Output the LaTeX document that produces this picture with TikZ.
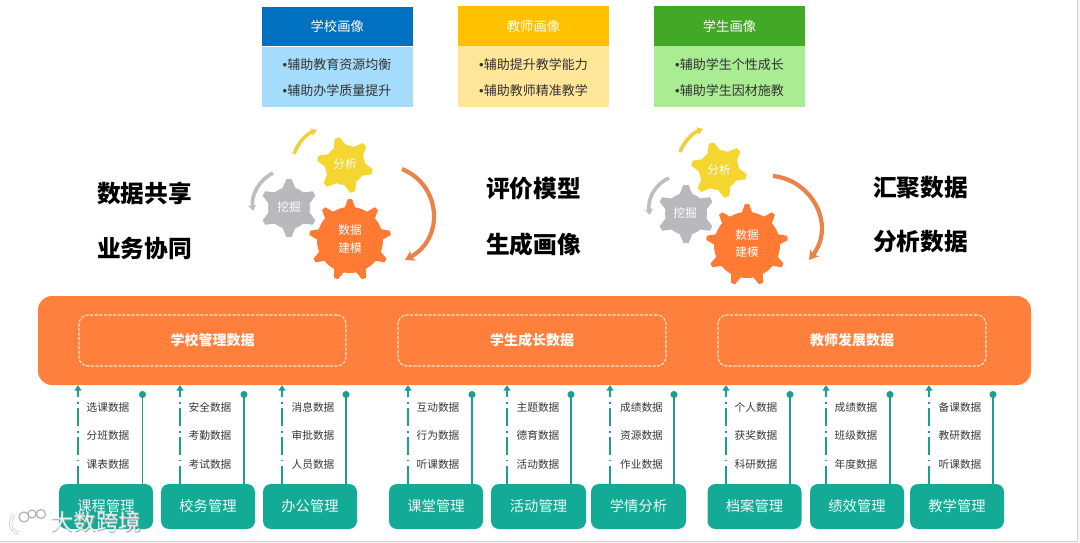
\documentclass[tikz,border=0pt]{standalone}
\usepackage{fontspec}
\setmainfont{Noto Sans CJK SC}
\newfontfamily\latbullet{Liberation Sans}
\usetikzlibrary{arrows.meta}
\definecolor{barorange}{HTML}{FF7F3C}
\definecolor{teal1}{HTML}{14AB96}
\definecolor{tealline}{HTML}{1F9E8C}
\definecolor{gearY}{HTML}{F5D530}
\definecolor{gearG}{HTML}{B9B9BD}
\definecolor{gearO}{HTML}{FF7A32}
\definecolor{arcO}{HTML}{E9834A}
\definecolor{arcG}{HTML}{BEBEC2}
\definecolor{arcY}{HTML}{F1CF3C}
\definecolor{cardBlueH}{HTML}{0070C0}
\definecolor{cardBlueL}{HTML}{A6DCFB}
\definecolor{cardYelH}{HTML}{FFC000}
\definecolor{cardYelL}{HTML}{FFE699}
\definecolor{cardGrnH}{HTML}{43A825}
\definecolor{cardGrnL}{HTML}{A9EC92}
\definecolor{dashcream}{HTML}{FFE6C8}
\newcommand{\fsz}[1]{\fontsize{#1pt}{#1pt}\selectfont}
\newcommand{\bul}{{\latbullet •}}
\tikzset{
  hdr/.style={inner sep=0pt,minimum width=151.5pt,minimum height=39.5pt,text=white,font=\fsz{13.3}},
  bodybox/.style={inner sep=0pt,minimum width=151.5pt,minimum height=60.5pt},
  bodytxt/.style={inner sep=0pt,text=black!80,font=\fsz{13}},
  bigtxt/.style={inner sep=0pt,text=black,font=\fsz{23.7}\bfseries},
  geartxt/.style={inner sep=0pt,text=white,font=\fsz{11.7}},
  databox/.style={draw=dashcream,line width=1.1pt,dash pattern=on 3.2pt off 1.4pt,rounded corners=9pt,inner sep=0pt,minimum height=51pt,text=white!96!orange,font=\fsz{14}\bfseries},
  modbox/.style={fill=teal1,rounded corners=8pt,inner sep=0pt,minimum height=45pt,text=white!92!teal1,font=\fsz{14.3}},
  lab/.style={inner sep=0pt,text=black!78,font=\fsz{10.7}},
  upline/.style={draw=tealline,line width=1.3pt,dash pattern=on 18pt off 4.5pt on 1.3pt off 5pt,-{Triangle[length=5.5pt,width=7pt]}},
  dotline/.style={draw=tealline,line width=1.3pt,-{Circle[length=7pt,width=7pt]}},
  bigarc/.style={draw=arcO,line width=4.2pt,-{Stealth[length=9pt,width=11pt,inset=2pt]}},
  grayarc/.style={draw=arcG,line width=3.6pt,-{Stealth[length=6pt,width=8pt,inset=1.5pt]}},
  yelarc/.style={draw=arcY,line width=3.6pt,-{Stealth[length=6pt,width=8pt,inset=1.5pt]}},
}
% x y body-radius outer-radius teeth rotation colour tooth-halfwidth
\newcommand{\gearshape}[8]{%
  \fill[#7] (#1,#2) circle[radius=#3];
  \foreach \k in {1,...,#5}{%
    \pgfmathsetmacro\ang{#6+360*\k/#5}%
    \begin{scope}[shift={(#1,#2)},rotate=\ang]
      \fill[#7,line join=round,draw=#7,line width=1pt] (#3-1.5,-#8-1.5) -- (#4-.5,-#8*0.5) -- (#4-.5,#8*0.5) -- (#3-1.5,#8+1.5) -- cycle;
    \end{scope}
  }%
}
% centre-x width title left-line right-line label-x label1 label2 label3
\newcommand{\datacol}[9]{%
  \node[modbox,minimum width=#2pt] (box#4) at (#1,506.5) {#3};
  \coordinate (l#4) at (#4,0);
  \coordinate (dot#4) at (#5,391);
  \draw[upline] (box#4.north -| l#4) -- (bar.south -| l#4);
  \draw[dotline] (box#4.north -| dot#4) -- (dot#4);
  \node[lab] (la#4) at (#6,407) {#7};
  \node[lab] (lb#4) at (#6,435.5) {#8};
  \node[lab] (lc#4) at (#6,464) {#9};
}
\begin{document}
\begin{tikzpicture}[x=1pt,y=-1pt]
\useasboundingbox (0,0) rectangle (1080,543);
\fill[white] (0,0) rectangle (1080,543);
% frame of the screenshot
\fill[black!4] (0,541) rectangle (1080,543);
\fill[black!4] (1077,0) rectangle (1080,543);
\draw[black!18,line width=.8pt] (0,541) -- (1077,541) -- (1077,0);

% top cards
\node[hdr,fill=cardBlueH] (h1) at (337.25,26.5) {学校画像};
\node[bodybox,fill=cardBlueL,anchor=north] (b1) at (h1.south) {};
\node[bodytxt] (b1a) at (337,64.5) {\bul 辅助教育资源均衡};
\node[bodytxt] (b1b) at (337,91) {\bul 辅助办学质量提升};
\node[hdr,fill=cardYelH] (h2) at (533.5,26) {教师画像};
\node[bodybox,fill=cardYelL,anchor=north] (b2) at (h2.south) {};
\node[bodytxt] (b2a) at (533.5,64.5) {\bul 辅助提升教学能力};
\node[bodytxt] (b2b) at (533.5,91) {\bul 辅助教师精准教学};
\node[hdr,fill=cardGrnH] (h3) at (729.5,26) {学生画像};
\node[bodybox,fill=cardGrnL,anchor=north] (b3) at (h3.south) {};
\node[bodytxt] (b3a) at (729.5,64.5) {\bul 辅助学生个性成长};
\node[bodytxt] (b3b) at (729.5,90.5) {\bul 辅助学生因材施教};

% big side texts
\node[bigtxt] (t1) at (144.5,193) {数据共享};
\node[bigtxt] (t2) at (144.5,248) {业务协同};
\node[bigtxt] (t3) at (533.5,189) {评价模型};
\node[bigtxt] (t4) at (533.5,244) {生成画像};
\node[bigtxt] (t5) at (920.5,188) {汇聚数据};
\node[bigtxt] (t6) at (920.5,242) {分析数据};

% left gears
\gearshape{345}{165}{20}{28}{6}{-14}{gearY}{4.5}
\gearshape{289}{208}{21}{29}{6}{90}{gearG}{4.5}
\gearshape{350}{240}{33}{41}{9}{90}{gearO}{3.5}
\node[geartxt] (g1) at (345,164) {分析};
\node[geartxt] (g2) at (289,207) {挖掘};
\node[geartxt] (g3) at (350,230) {数据};
\node[geartxt] (g4) at (350,248) {建模};
\coordinate (a1s) at (402,169); \coordinate (a1e) at (405,260);
\draw[bigarc] (a1s) .. controls (441,185) and (445,238) .. (a1e);
\coordinate (a2s) at (273,173); \coordinate (a2e) at (253,211);
\draw[grayarc] (a2s) .. controls (259,180) and (251,195) .. (a2e);
\coordinate (a3s) at (294,154); \coordinate (a3e) at (317,130);
\draw[yelarc] (a3s) .. controls (298,143) and (306,134) .. (a3e);

% right gears
\gearshape{719}{170}{20}{28}{6}{-14}{gearY}{4.5}
\gearshape{686}{214}{21}{29}{6}{90}{gearG}{4.5}
\gearshape{747}{245}{33}{41}{9}{90}{gearO}{3.5}
\node[geartxt] (g5) at (719,170) {分析};
\node[geartxt] (g6) at (685,213) {挖掘};
\node[geartxt] (g7) at (747,235) {数据};
\node[geartxt] (g8) at (747,252) {建模};
\coordinate (a4s) at (773,176); \coordinate (a4e) at (809,260);
\draw[bigarc] (a4s) .. controls (812,180) and (836,225) .. (a4e);
\coordinate (a5s) at (669,178); \coordinate (a5e) at (650,215);
\draw[grayarc] (a5s) .. controls (654,185) and (647,200) .. (a5e);
\coordinate (a6s) at (680,152); \coordinate (a6e) at (703,129);
\draw[yelarc] (a6s) .. controls (684,142) and (692,133) .. (a6e);

% orange bar
\node[fill=barorange,rounded corners=14pt,inner sep=0pt,minimum width=993pt,minimum height=89pt] (bar) at (534.5,340.5) {};
\node[databox,minimum width=267pt] (d1) at (212.5,340.5) {学校管理数据};
\node[databox,minimum width=268pt] (d2) at (532,340.5) {学生成长数据};
\node[databox,minimum width=268pt] (d3) at (852,340.5) {教师发展数据};

% columns
\datacol{106}{94}{课程管理}{78}{142.5}{108}{选课数据}{分班数据}{课表数据}
\datacol{208}{94}{校务管理}{180}{244}{210}{安全数据}{考勤数据}{考试数据}
\datacol{310}{94}{办公管理}{282}{346}{313}{消息数据}{审批数据}{人员数据}
\datacol{436}{94}{课堂管理}{408}{472}{438}{互动数据}{行为数据}{听课数据}
\datacol{538.5}{95}{活动管理}{507}{571}{538}{主题数据}{德育数据}{活动数据}
\datacol{638.5}{95}{学情分析}{610}{674}{641.5}{成绩数据}{资源数据}{作业数据}
\datacol{754.5}{94}{档案管理}{726}{790}{756}{个人数据}{获奖数据}{科研数据}
\datacol{857}{94}{绩效管理}{826}{890}{856}{成绩数据}{班级数据}{年度数据}
\datacol{957}{94}{教学管理}{929}{993}{960}{备课数据}{教研数据}{听课数据}

% watermark
\node[inner sep=0pt,text=black!35,font=\fsz{22.5}] (wm0) at (96.6,522.6) {大数跨境};
\node[inner sep=0pt,text=white,opacity=.85,font=\fsz{22.5}] (wm) at (96,522) {大数跨境};
\draw[black!25,line width=3pt] (14,515) .. controls (8,522) and (10,531) .. (19,533);
\draw[white,line width=1.8pt] (14,515) .. controls (8,522) and (10,531) .. (19,533);
\draw[black!30,line width=1.2pt,fill=white] (24,517) circle[radius=5];
\draw[black!30,line width=1.2pt,fill=white] (32,514) circle[radius=4];
\draw[black!30,line width=1.2pt,fill=white] (41,514) circle[radius=4.5];
\end{tikzpicture}
\end{document}
